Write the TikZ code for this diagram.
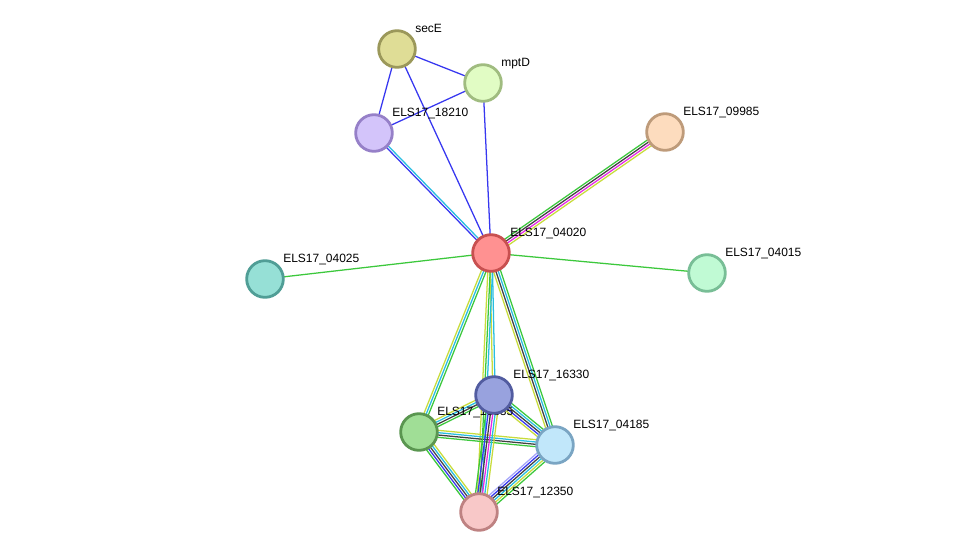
\documentclass[tikz,border=0pt]{standalone}
\usepackage{fontspec}
\setmainfont{Liberation Sans}
\usetikzlibrary{calc,backgrounds}
\definecolor{cg}{RGB}{60,200,60}
\definecolor{cb}{RGB}{55,55,240}
\definecolor{cc}{RGB}{40,190,225}
\definecolor{ck}{RGB}{65,65,65}
\definecolor{cm}{RGB}{230,40,230}
\definecolor{cy}{RGB}{200,220,60}
\definecolor{cp}{RGB}{165,165,250}
\newcommand{\mlink}[4]{%
  \foreach \c [count=\i] in {#4} {%
    \pgfmathsetmacro\off{(\i-(#3+1)/2)*1.75}%
    \draw[line width=0.95pt, color=\c] ($(#1.center)!\off pt!90:(#2.center)$) -- ($(#2.center)!\off pt!-90:(#1.center)$);
  }}
\tikzset{
  pnode/.style={circle, minimum size=27.5pt, inner sep=0pt, line width=2.1pt},
  lab/.style={anchor=base west, inner sep=0pt, font=\fontsize{9pt}{10pt}\selectfont, text=black}
}
\begin{document}
\begin{tikzpicture}[x=0.75pt,y=-0.75pt]
\useasboundingbox (0,0) rectangle (976,558);
% nodes
\node[pnode, fill={rgb,255:red,223;green,221;blue,150}, draw={rgb,255:red,155;green,152;blue,90}] (secE) at (397,49) {};
\node[lab] (secEl) at (415,32) {secE};
\node[pnode, fill={rgb,255:red,225;green,252;blue,196}, draw={rgb,255:red,160;green,188;blue,128}] (mptD) at (483,83) {};
\node[lab] (mptDl) at (501,66) {mptD};
\node[pnode, fill={rgb,255:red,211;green,196;blue,250}, draw={rgb,255:red,150;green,128;blue,200}] (n18210) at (374,133) {};
\node[lab] (n18210l) at (392,116) {ELS17\_18210};
\node[pnode, fill={rgb,255:red,253;green,220;blue,190}, draw={rgb,255:red,190;green,155;blue,122}] (n09985) at (665,132) {};
\node[lab] (n09985l) at (683,115) {ELS17\_09985};
\node[pnode, fill={rgb,255:red,255;green,145;blue,145}, draw={rgb,255:red,200;green,80;blue,80}] (n04020) at (491,253) {};
\node[lab] (n04020l) at (510,236) {ELS17\_04020};
\node[pnode, fill={rgb,255:red,150;green,224;blue,214}, draw={rgb,255:red,80;green,158;blue,150}] (n04025) at (265,279) {};
\node[lab] (n04025l) at (283,262) {ELS17\_04025};
\node[pnode, fill={rgb,255:red,192;green,250;blue,212}, draw={rgb,255:red,120;green,190;blue,150}] (n04015) at (707,273) {};
\node[lab] (n04015l) at (725,256) {ELS17\_04015};
\node[pnode, fill={rgb,255:red,160;green,222;blue,150}, draw={rgb,255:red,90;green,150;blue,80}] (nG) at (419,432) {};
\node[lab] (nGl) at (437,415) {ELS17\_16335};
\node[pnode, fill={rgb,255:red,152;green,162;blue,222}, draw={rgb,255:red,82;green,92;blue,160}] (n16330) at (494,395) {};
\node[lab] (n16330l) at (513,378) {ELS17\_16330};
\node[pnode, fill={rgb,255:red,193;green,231;blue,250}, draw={rgb,255:red,122;green,165;blue,195}] (n04185) at (555,445) {};
\node[lab] (n04185l) at (573,428) {ELS17\_04185};
\node[pnode, fill={rgb,255:red,248;green,200;blue,200}, draw={rgb,255:red,190;green,130;blue,130}] (n12350) at (479,512) {};
\node[lab] (n12350l) at (497,495) {ELS17\_12350};
% edges
\begin{pgfonlayer}{background}
\fill[white] (0,0) rectangle (976,558);
\mlink{secE}{mptD}{1}{cb}
\mlink{secE}{n18210}{1}{cb}
\mlink{secE}{n04020}{1}{cb}
\mlink{mptD}{n18210}{1}{cb}
\mlink{mptD}{n04020}{1}{cb}
\mlink{n18210}{n04020}{2}{cb,cc}
\mlink{n04020}{n09985}{4}{cy,cm,ck,cg}
\mlink{n04020}{n04025}{1}{cg}
\mlink{n04020}{n04015}{1}{cg}
\mlink{n04020}{nG}{3}{cy,cc,cg}
\mlink{n04020}{n16330}{2}{cy,cc}
\mlink{n04020}{n12350}{3}{cy,cg,cc}
\mlink{n04020}{n04185}{4}{cy,ck,cc,cg}
\mlink{nG}{n16330}{4}{cg,ck,cc,cy}
\mlink{nG}{n04185}{4}{cg,ck,cc,cy}
\mlink{nG}{n12350}{5}{cg,cb,ck,cc,cy}
\mlink{n16330}{n04185}{5}{cy,cb,ck,cc,cg}
\mlink{n16330}{n12350}{6}{cg,cb,ck,cm,cc,cy}
\mlink{n04185}{n12350}{6}{cp,cb,ck,cc,cy,cg}
\end{pgfonlayer}
\end{tikzpicture}
\end{document}
